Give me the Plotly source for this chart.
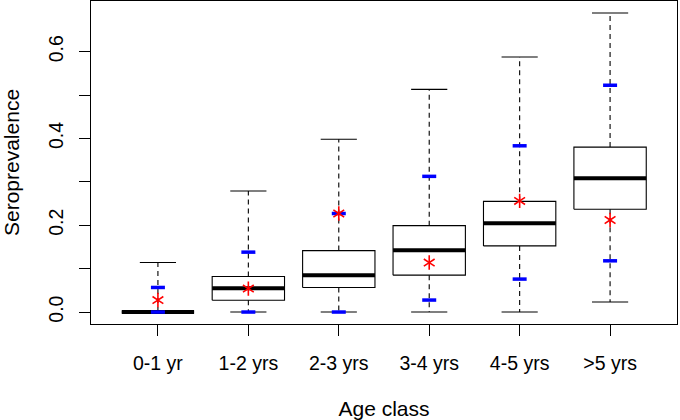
import plotly.graph_objects as go

# ---- data ----
categories = ["0-1 yr", "1-2 yrs", "2-3 yrs", "3-4 yrs", "4-5 yrs", ">5 yrs"]
whisker_low = [0.0, 0.0, 0.0, 0.0, 0.0, 0.023]
q1 = [0.0, 0.027, 0.0566, 0.085, 0.1524, 0.2368]
median = [0.0, 0.055, 0.085, 0.1425, 0.2046, 0.308]
q3 = [0.0, 0.082, 0.1416, 0.199, 0.255, 0.380]
whisker_high = [0.114, 0.279, 0.398, 0.513, 0.5876, 0.689]
blue_high = [0.0566, 0.138, 0.227, 0.3126, 0.383, 0.5225]
blue_low = [0.0, 0.0, 0.0, 0.0276, 0.0759, 0.118]
observed = [0.0276, 0.054, 0.227, 0.114, 0.256, 0.212]
y_tick_vals = [0.0, 0.1, 0.2, 0.3, 0.4, 0.5, 0.6]
y_tick_text = ["0.0", "", "0.2", "", "0.4", "", "0.6"]

FONT = "Liberation Sans, Arial, sans-serif"
TICK_FONT = dict(family=FONT, size=19.5, color="black")
xpos = list(range(1, len(categories) + 1))
HALF = 0.4   # half box width (x units)
CAP = 0.2    # half staple width

fig = go.Figure()

# box rectangles
bx, by = [], []
for i, a, b in zip(xpos, q1, q3):
    bx += [i - HALF, i + HALF, i + HALF, i - HALF, i - HALF, None]
    by += [a, a, b, b, a, None]
fig.add_trace(go.Scatter(x=bx, y=by, mode="lines", line=dict(color="black", width=1.1),
                         hoverinfo="skip", showlegend=False))

# dashed whiskers
wx, wy = [], []
for i, lo, a, b, hi in zip(xpos, whisker_low, q1, q3, whisker_high):
    wx += [i, i, None, i, i, None]
    wy += [b, hi, None, a, lo, None]
fig.add_trace(go.Scatter(x=wx, y=wy, mode="lines",
                         line=dict(color="black", width=1.1, dash="5px,4px"),
                         hoverinfo="skip", showlegend=False))

# staples
sx, sy = [], []
for i, lo, hi in zip(xpos, whisker_low, whisker_high):
    sx += [i - CAP, i + CAP, None, i - CAP, i + CAP, None]
    sy += [hi, hi, None, lo, lo, None]
fig.add_trace(go.Scatter(x=sx, y=sy, mode="lines", line=dict(color="black", width=1.1),
                         hoverinfo="skip", showlegend=False))

# medians
mx, my = [], []
for i, m in zip(xpos, median):
    mx += [i - HALF, i + HALF, None]
    my += [m, m, None]
fig.add_trace(go.Scatter(x=mx, y=my, mode="lines", line=dict(color="black", width=4),
                         hoverinfo="skip", showlegend=False))

# blue interval marks
for vals in (blue_high, blue_low):
    fig.add_trace(go.Scatter(x=xpos, y=vals, mode="markers",
                             marker=dict(symbol="line-ew-open", size=10, color="#0000FF",
                                         line=dict(color="#0000FF", width=3.5)),
                             hoverinfo="skip", showlegend=False))

# red asterisks (observed)
for sym in ("y-up-open", "y-down-open"):
    fig.add_trace(go.Scatter(x=xpos, y=observed, mode="markers",
                             marker=dict(symbol=sym, size=9, color="#FF0000",
                                         line=dict(color="#FF0000", width=1.6)),
                             hoverinfo="skip", showlegend=False))

fig.update_layout(
    width=680, height=420,
    margin=dict(l=91, r=3, t=1, b=96),
    paper_bgcolor="white", plot_bgcolor="white",
    font=dict(family=FONT, size=17.6, color="black"),
    xaxis=dict(range=[0.26, 6.74], tickvals=xpos, ticktext=categories,
               tickfont=TICK_FONT,
               ticks="outside", ticklen=11, tickcolor="black", tickwidth=1,
               ticklabelstandoff=11,
               showline=True, mirror=True, linecolor="black", linewidth=1,
               showgrid=False, zeroline=False, automargin=False,
               title=dict(text="Age class", standoff=31)),
    yaxis=dict(range=[-0.02756, 0.7166], tickvals=y_tick_vals, ticktext=y_tick_text,
               tickfont=TICK_FONT,
               tickangle=-90, ticklabelstandoff=8,
               ticks="outside", ticklen=11, tickcolor="black", tickwidth=1,
               showline=True, mirror=True, linecolor="black", linewidth=1,
               showgrid=False, zeroline=False, automargin=False,
               title=dict(text="Seroprevalence", standoff=34)),
)

fig.write_html("out.html", config={"displayModeBar": False},
               post_script="document.body.style.margin='0';")
